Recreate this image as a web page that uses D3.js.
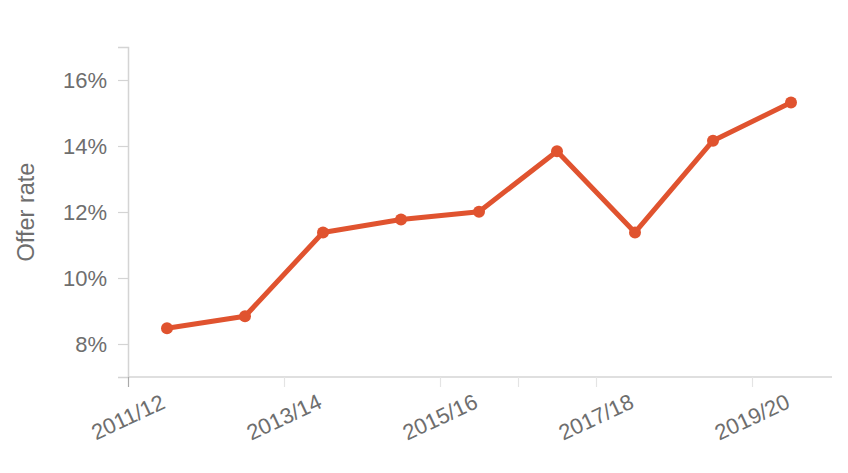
<!DOCTYPE html>
<html><head><meta charset="utf-8">
<script src="https://cdn.jsdelivr.net/npm/d3@7"></script>
<style>
html,body{margin:0;padding:0;background:#fff;}
text{font-family:"Liberation Sans",Arial,Helvetica,sans-serif;}
</style></head>
<body><svg id="chart" width="848" height="473"></svg>
<script>
const years = ["2011/12","2012/13","2013/14","2014/15","2015/16","2016/17","2017/18","2018/19","2019/20"];
const offerRate = [8.48, 8.84, 11.38, 11.77, 12.01, 13.84, 11.38, 14.16, 15.32];
const yTicks = [8, 10, 12, 14, 16];
const xTickIdx = [0, 2, 4, 5, 6, 8];
const xLabelIdx = [0, 2, 4, 6, 8];

(function () {
const svg = d3.select("#chart");
const mLeft = 128, mRight = 832, mTop = 47, mBottom = 377;
const x = d3.scaleLinear().domain([0, 9]).range([mLeft, mLeft + 78 * 9]);
const y = d3.scaleLinear().domain([7, 17]).range([mBottom, mTop]);
const gray = "#d4d4d4", textCol = "#6e6e6e";

// y axis
const ya = svg.append("g").attr("transform", `translate(${mLeft},0)`)
  .call(d3.axisLeft(y).tickValues(yTicks).tickSize(10).tickPadding(10).tickFormat(d => d + "%"));
ya.select(".domain").attr("stroke", gray).attr("stroke-width", 1.5);
ya.selectAll(".tick line").attr("stroke", gray).attr("stroke-width", 1.2);
ya.selectAll(".tick text").attr("fill", textCol).attr("font-size", 22).attr("dx", -1);

// x axis
const xa = svg.append("g").attr("transform", `translate(0,${mBottom})`)
  .call(d3.axisBottom(x).tickValues(xTickIdx).tickSize(10).tickFormat(""));
xa.select(".domain").attr("d", `M${mLeft},0H${mRight}`).attr("stroke", gray).attr("stroke-width", 1.5);
xa.selectAll(".tick line").attr("stroke", d => d === 0 ? "#aaa" : "#e4e4e4").attr("stroke-width", 1.2);

svg.append("g").selectAll("text").data(xLabelIdx).join("text")
  .attr("transform", d => `translate(${x(d)},${mBottom + 40}) rotate(-25)`)
  .attr("text-anchor", "middle").attr("dy", "0.35em").attr("fill", textCol).attr("font-size", 22)
  .text(d => years[d]);

// y title
svg.append("text").attr("transform", `translate(26,212) rotate(-90)`)
  .attr("text-anchor", "middle").attr("dy", "0.35em").attr("fill", textCol).attr("font-size", 23.5).text("Offer rate");

// line
const lineColor = "#e0532f";
svg.append("path").datum(offerRate)
  .attr("fill", "none").attr("stroke", lineColor).attr("stroke-width", 5).attr("stroke-linejoin", "round")
  .attr("d", d3.line().x((d, i) => x(i + 0.5)).y(d => y(d)));
svg.append("g").selectAll("circle").data(offerRate).join("circle")
  .attr("cx", (d, i) => x(i + 0.5)).attr("cy", d => y(d)).attr("r", 6).attr("fill", lineColor);
})();
</script></body></html>
